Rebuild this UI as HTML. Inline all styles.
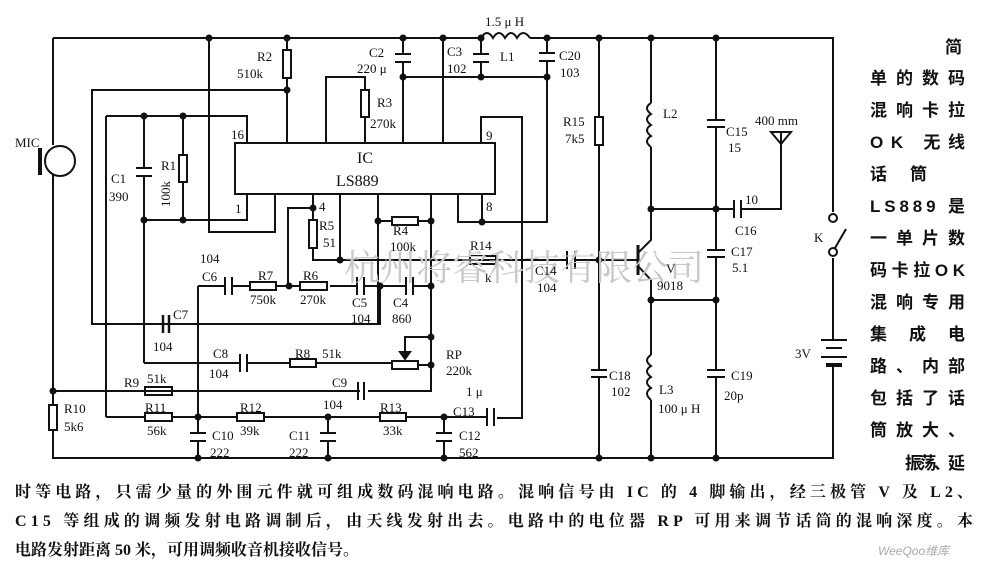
<!DOCTYPE html>
<html><head><meta charset="utf-8"><style>
html,body{margin:0;padding:0;background:#fff}
svg{display:block}
text{font-family:"Liberation Serif","Noto Serif CJK SC",serif;font-size:13px;fill:#111}
.cn{font-family:"Liberation Sans","Noto Sans CJK SC",sans-serif;font-weight:bold;font-size:17px}
.bt{font-family:"Liberation Serif","Noto Serif CJK SC",serif;font-size:16px;font-weight:bold}
</style></head><body>
<svg width="982" height="569" viewBox="0 0 982 569" xmlns="http://www.w3.org/2000/svg">
<g stroke="#111" stroke-width="2" fill="none">
<!-- rails -->
<path d="M53 38H481M530 38H833V212M833 258V340M833 367V458H53V430M53 405V175M53 145V38"/>
<!-- L1 coil -->
<path d="M481 38q6-10 12 0q6-10 12 0q6-10 12 0q6-10 13 0"/>
<!-- IC -->
<rect x="235" y="143" width="260" height="51"/>
<!-- x209 loop -->
<path d="M209 38V232H275V194"/>
<!-- R2 -->
<path d="M287 38V50M287 78V143M287 90H92V324H380V286"/>
<rect x="283" y="50" width="8" height="28"/>
<!-- inner loop -->
<path d="M106 116H247V143M144 116V168M144 176V220M183 116V155M183 182V220M144 220H247V194M106 116V417M144 220V363"/>
<path d="M136 168h16M136 176h16"/>
<rect x="179" y="155" width="8" height="27"/>
<!-- R3 -->
<path d="M326 143V77H365V90M365 117V143"/>
<rect x="361" y="90" width="8" height="27"/>
<!-- C2 -->
<path d="M403 38V54M403 62V143M395 54h16M395 62h16M403 77H547"/>
<path d="M443 38V143"/>
<path d="M481 38V54M481 62V77M473 54h16M473 62h16"/>
<path d="M547 38V53M547 61V222H458V194M539 53h16M539 61h16M482 194V222"/>
<!-- pin9 -->
<path d="M481 143V117H522V418H497"/>
<!-- pin4 -->
<path d="M313 194V220M313 248V260H567M575 260H638M313 208H288V286"/>
<rect x="309" y="220" width="8" height="28"/>
<path d="M340 194V260M378 194V324M431 194V391H368M360 391H53"/>
<path d="M378 221H392M418 221H431"/>
<rect x="392" y="217" width="26" height="8"/>
<rect x="470" y="256" width="26" height="8"/>
<path d="M567 251v18M575 251v18"/>
<!-- row 286 -->
<path d="M198 286H225M232 286H250M276 286H300M330 286H357M364 286H406M413 286H431M198 286V433M198 441V458"/>
<path d="M225 277v18M232 277v18M357 277v18M364 277v18M406 277v18M413 277v18"/>
<rect x="250" y="282" width="26" height="8"/><rect x="300" y="282" width="27" height="8"/>
<!-- C7 -->
<path d="M163 315v18M169 315v18" stroke-width="2.5"/>
<!-- C8 row -->
<path d="M144 363H240M247 363H290M316 363H392M418 365H431M431 337H405V358"/>
<path d="M240 354v18M247 354v18M358 382v18M364 382v18"/>
<rect x="290" y="359" width="26" height="8"/><rect x="392" y="361" width="26" height="8"/>
<path d="M400 352h10l-5 7z" fill="#111"/>
<!-- R9 -->
<rect x="145" y="387" width="27" height="8"/><rect x="49" y="405" width="8" height="25"/>
<!-- R11 row -->
<path d="M106 417H145M172 417H237M264 417H380M406 417H487"/>
<rect x="145" y="413" width="27" height="8"/><rect x="237" y="413" width="27" height="8"/><rect x="380" y="413" width="26" height="8"/>
<path d="M487 408v18M494 408v18"/>
<path d="M190 433h16M190 441h16M328 417V433M328 441V458M320 433h16M320 441h16M444 417V433M444 441V458M436 433h16M436 441h16"/>
<!-- right section -->
<path d="M599 38V117M599 145V260M599 260V370M599 377V458"/>
<rect x="595" y="117" width="8" height="28"/>
<path d="M591 370h16M591 377h16"/>
<path d="M651 38V103M651 147V240L638 253M638 266L651 280V355M651 400V458M651 209H716M651 300H716"/>
<path d="M651 103q-8 5 0 11q-8 5 0 11q-8 5 0 11q-8 5 0 11"/>
<path d="M651 355q-8 5 0 11q-8 5 0 11q-8 5 0 11q-8 5 0 12"/>
<path d="M638 245V275" stroke-width="3"/>
<path d="M716 38V120M716 127V250M716 257V370M716 377V458M707 120h18M707 127h18M707 250h18M707 257h18M707 370h18M707 377h18"/>
<path d="M716 209H734M741 209H781V140M734 200v18M741 200v18"/>
<path d="M771 132h20l-10 12zM781 132v12"/>
<circle cx="833" cy="218" r="4" fill="#fff"/><circle cx="833" cy="252" r="4" fill="#fff"/>
<path d="M835 248L846 229"/>
<path d="M821 340h26M826 348h16M821 357h26" /><path d="M826 365h16" stroke-width="4"/>
<!-- MIC -->
<circle cx="60" cy="161" r="15"/><path d="M40 148V175" stroke-width="4"/>
</g>
<g fill="#111">
<circle cx="209" cy="38" r="3.5"/><circle cx="287" cy="38" r="3.5"/><circle cx="403" cy="38" r="3.5"/><circle cx="443" cy="38" r="3.5"/><circle cx="481" cy="38" r="3.5"/><circle cx="547" cy="38" r="3.5"/><circle cx="599" cy="38" r="3.5"/><circle cx="651" cy="38" r="3.5"/><circle cx="716" cy="38" r="3.5"/>
<circle cx="287" cy="90" r="3.5"/><circle cx="403" cy="77" r="3.5"/><circle cx="481" cy="77" r="3.5"/><circle cx="547" cy="77" r="3.5"/>
<circle cx="144" cy="116" r="3.5"/><circle cx="183" cy="116" r="3.5"/><circle cx="144" cy="220" r="3.5"/><circle cx="183" cy="220" r="3.5"/>
<circle cx="313" cy="208" r="3.5"/><circle cx="340" cy="260" r="3.5"/><circle cx="378" cy="221" r="3.5"/><circle cx="431" cy="221" r="3.5"/><circle cx="482" cy="222" r="3.5"/>
<circle cx="289" cy="286" r="3.5"/><circle cx="380" cy="286" r="3.5"/><circle cx="431" cy="286" r="3.5"/><circle cx="431" cy="337" r="3.5"/><circle cx="431" cy="365" r="3.5"/>
<circle cx="53" cy="391" r="3.5"/><circle cx="198" cy="417" r="3.5"/><circle cx="328" cy="417" r="3.5"/><circle cx="444" cy="417" r="3.5"/>
<circle cx="198" cy="458" r="3.5"/><circle cx="328" cy="458" r="3.5"/><circle cx="444" cy="458" r="3.5"/><circle cx="599" cy="458" r="3.5"/><circle cx="651" cy="458" r="3.5"/><circle cx="716" cy="458" r="3.5"/>
<circle cx="599" cy="260" r="3.5"/><circle cx="651" cy="209" r="3.5"/><circle cx="716" cy="209" r="3.5"/><circle cx="651" cy="300" r="3.5"/><circle cx="716" cy="300" r="3.5"/>
</g>
<text x="344" y="280" style="font-size:36px;fill:#c8c8c8;font-family:'Noto Serif CJK SC',serif">杭州将睿科技有限公司</text>
<text x="357" y="163" style="font-size:16px">IC</text><text x="336" y="186" style="font-size:16px">LS889</text>
<text x="231" y="139">16</text><text x="235" y="213">1</text><text x="319" y="211">4</text><text x="486" y="140">9</text><text x="486" y="211">8</text>
<text x="257" y="61">R2</text><text x="237" y="78">510k</text>
<text x="369" y="57">C2</text><text x="357" y="73">220 μ</text>
<text x="447" y="56">C3</text><text x="447" y="73">102</text><text x="500" y="61">L1</text><text x="485" y="26">1.5 μ H</text>
<text x="559" y="60">C20</text><text x="560" y="77">103</text>
<text x="377" y="107">R3</text><text x="370" y="128">270k</text>
<text x="15" y="147">MIC</text><text x="111" y="183">C1</text><text x="109" y="201">390</text><text x="161" y="170">R1</text>
<text x="0" y="0" transform="translate(170,207) rotate(-90)">100k</text>
<text x="563" y="126">R15</text><text x="565" y="143">7k5</text><text x="663" y="118">L2</text>
<text x="726" y="136">C15</text><text x="728" y="152">15</text><text x="755" y="125">400 mm</text>
<text x="745" y="204">10</text><text x="735" y="235">C16</text><text x="731" y="256">C17</text><text x="732" y="272">5.1</text>
<text x="666" y="273">V</text><text x="657" y="290">9018</text><text x="814" y="242">K</text>
<text x="609" y="380">C18</text><text x="611" y="396">102</text><text x="659" y="394">L3</text><text x="658" y="413">100 μ H</text>
<text x="731" y="380">C19</text><text x="724" y="400">20p</text><text x="795" y="358">3V</text>
<text x="319" y="230">R5</text><text x="323" y="247">51</text><text x="393" y="235">R4</text><text x="390" y="251">100k</text>
<text x="470" y="250">R14</text><text x="485" y="282">k</text><text x="535" y="275">C14</text><text x="537" y="292">104</text>
<text x="200" y="263">104</text><text x="202" y="281">C6</text><text x="258" y="280">R7</text><text x="250" y="304">750k</text>
<text x="303" y="280">R6</text><text x="300" y="304">270k</text><text x="352" y="307">C5</text><text x="351" y="323">104</text>
<text x="393" y="307">C4</text><text x="392" y="323">860</text>
<text x="173" y="319">C7</text><text x="153" y="351">104</text>
<text x="213" y="358">C8</text><text x="209" y="378">104</text><text x="295" y="358">R8</text><text x="322" y="358">51k</text>
<text x="446" y="359">RP</text><text x="446" y="375">220k</text>
<text x="124" y="387">R9</text><text x="147" y="383">51k</text><text x="332" y="387">C9</text><text x="323" y="409">104</text>
<text x="466" y="396">1 μ</text><text x="453" y="416">C13</text>
<text x="64" y="413">R10</text><text x="64" y="431">5k6</text>
<text x="145" y="412">R11</text><text x="147" y="435">56k</text><text x="240" y="412">R12</text><text x="240" y="435">39k</text>
<text x="212" y="440">C10</text><text x="210" y="457">222</text><text x="289" y="440">C11</text><text x="289" y="457">222</text>
<text x="380" y="412">R13</text><text x="383" y="435">33k</text><text x="459" y="440">C12</text><text x="459" y="457">562</text>
<g class="cn">
<text class="cn" x="945" y="53">简</text>
<text class="cn" x="870" y="84" textLength="95">单的数码</text>
<text class="cn" x="870" y="116" textLength="95">混响卡拉</text>
<text class="cn" x="870" y="148" textLength="95">OK 无线</text>
<text class="cn" x="870" y="180">话</text><text class="cn" x="910" y="180">筒</text>
<text class="cn" x="870" y="212" textLength="95">LS889 是</text>
<text class="cn" x="870" y="244" textLength="95">一单片数</text>
<text class="cn" x="870" y="276" textLength="95">码卡拉OK</text>
<text class="cn" x="870" y="308" textLength="95">混响专用</text>
<text class="cn" x="870" y="340" textLength="95">集 成 电</text>
<text class="cn" x="870" y="372" textLength="95">路、内部</text>
<text class="cn" x="870" y="404" textLength="95">包括了话</text>
<text class="cn" x="870" y="436" textLength="95">筒放大、</text>
<text class="cn" x="905" y="469" textLength="60">振荡、延</text>
</g>
<text class="bt" x="15" y="497" textLength="958">时等电路，只需少量的外围元件就可组成数码混响电路。混响信号由 IC 的 4 脚输出，经三极管 V 及 L2、</text>
<text class="bt" x="15" y="526" textLength="958">C15 等组成的调频发射电路调制后，由天线发射出去。电路中的电位器 RP 可用来调节话筒的混响深度。本</text>
<text class="bt" x="15" y="555">电路发射距离 50 米，可用调频收音机接收信号。</text>
<text x="878" y="555" style="font-size:12px;fill:#aaa;font-family:'Liberation Sans',sans-serif;font-style:italic">WeeQoo维库</text>
</svg>
</body></html>
